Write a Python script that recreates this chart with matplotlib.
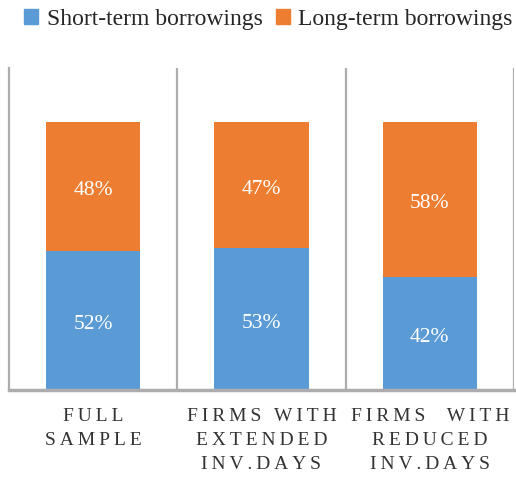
import matplotlib
matplotlib.use('Agg')
import matplotlib.pyplot as plt
from matplotlib.patches import Patch

plt.rcParams['font.family'] = ['Liberation Serif', 'DejaVu Serif']

# Data
categories = ['FULL\nSAMPLE', 'FIRMS WITH\nEXTENDED\nINV.DAYS', 'FIRMS  WITH\nREDUCED\nINV.DAYS']
short_term = [0.52, 0.53, 0.42]
long_term = [0.48, 0.47, 0.58]
series_names = ['Short-term borrowings', 'Long-term borrowings']

blue = '#5B9BD5'
orange = '#ED7D31'
grid_col = '#ADADAF'


def spaced(label):
    # wide letter spacing like the original axis labels
    return '\n'.join('\u2009'.join(line) for line in label.split('\n'))


fig = plt.figure(figsize=(5.16, 4.79), dpi=100)
ax = fig.add_axes([0.0174, 0.1858, 0.9786, 0.6712])

x = range(len(categories))
b1 = ax.bar(x, short_term, width=0.56, color=blue, edgecolor='none')
b2 = ax.bar(x, long_term, width=0.56, bottom=short_term, color=orange, edgecolor='none')

for bars, vals in [(b1, short_term), (b2, long_term)]:
    for rect, v in zip(bars, vals):
        ax.annotate(f'{v * 100:.0f}%',
                    (rect.get_x() + rect.get_width() / 2, rect.get_y() + rect.get_height() / 2),
                    xytext=(0, -4), textcoords='offset pixels',
                    ha='center', va='center', color='white', fontsize=15.5)

ax.set_xlim(-0.5, 2.5)
ax.set_ylim(0, 1.2)

# category separators
for xs in [0.5, 1.5, 2.5]:
    ax.axvline(xs, color=grid_col, lw=1.6, zorder=0)

ax.set_yticks([])
ax.set_xticks(list(x))
ax.set_xticklabels([spaced(c) for c in categories], fontsize=14, color='#333333',
                   linespacing=1.55)
ax.tick_params(axis='x', length=0, pad=13)

for s in ['top', 'right']:
    ax.spines[s].set_visible(False)
ax.spines['left'].set_color(grid_col)
ax.spines['left'].set_linewidth(1.6)
ax.spines['bottom'].set_color(grid_col)
ax.spines['bottom'].set_linewidth(2.5)

handles = [Patch(color=blue), Patch(color=orange)]
fig.legend(handles, series_names, loc='upper center', bbox_to_anchor=(0.52, 1.025),
           ncol=2, frameon=False, fontsize=17, handlelength=0.6, handleheight=0.6,
           handletextpad=0.35, columnspacing=0.55, labelcolor='#262626')

fig.savefig('out.png', dpi=100)
